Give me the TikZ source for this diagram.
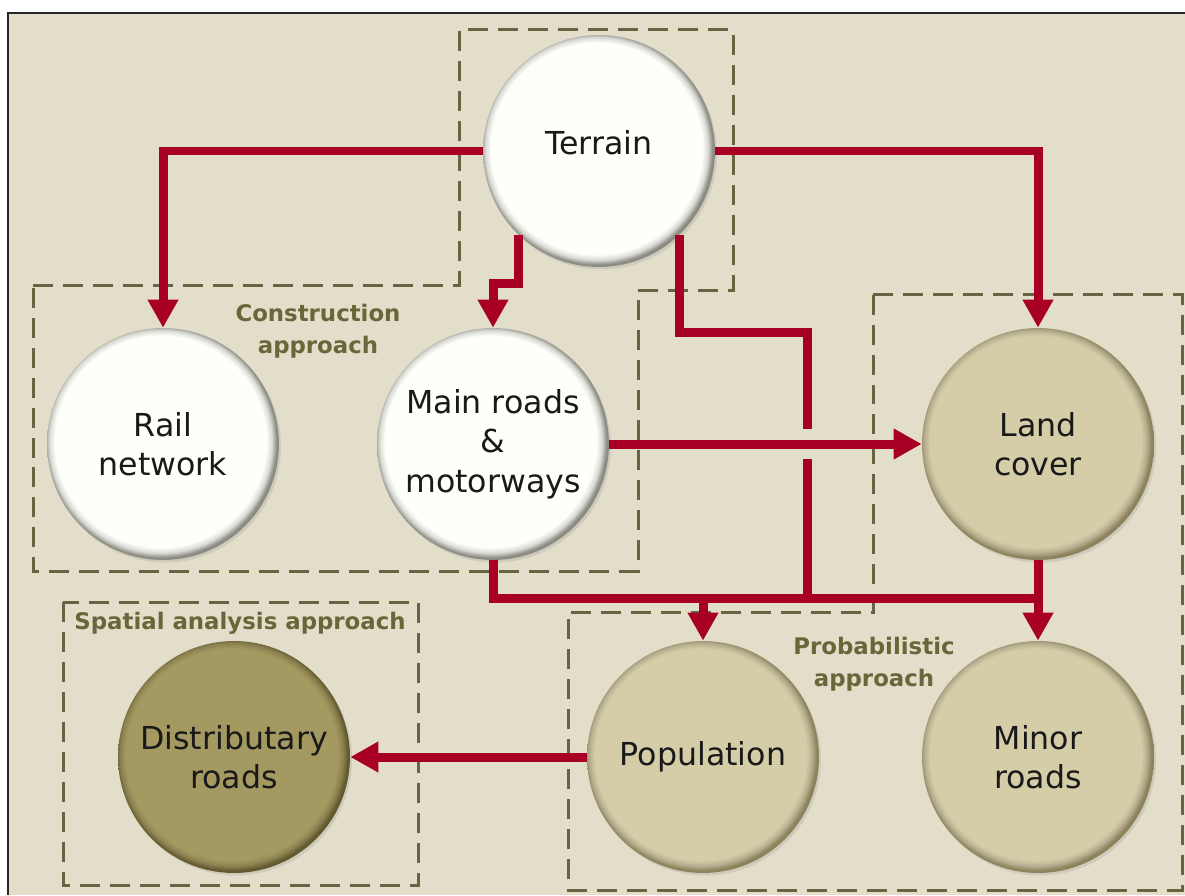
\documentclass[tikz,border=0pt]{standalone}
\usepackage{fontspec}
\setmainfont{DejaVu Sans}
\usetikzlibrary{arrows.meta,shadows}

\definecolor{paper}{RGB}{226,222,202}
\definecolor{roadred}{RGB}{168,0,36}
\definecolor{zoneline}{RGB}{104,100,66}
\definecolor{zonetext}{RGB}{104,103,58}
\definecolor{offwhite}{RGB}{255,255,250}
\definecolor{tanbase}{RGB}{213,205,168}
\definecolor{tanrim}{RGB}{140,131,92}
\definecolor{olivebase}{RGB}{164,153,96}
\definecolor{oliverim}{RGB}{100,90,48}
\definecolor{whiterim}{RGB}{140,140,132}

% discs: flat centre, thin darker rim
\pgfdeclareradialshading{discwhite}{\pgfpoint{-1bp}{1bp}}{color(0bp)=(offwhite); color(22.8bp)=(offwhite); color(24bp)=(offwhite!85!black); color(25bp)=(whiterim); color(50bp)=(whiterim)}
\pgfdeclareradialshading{disctan}{\pgfpoint{-1bp}{1bp}}{color(0bp)=(tanbase); color(22.8bp)=(tanbase); color(24bp)=(tanbase!85!black); color(25bp)=(tanrim); color(50bp)=(tanrim)}
\pgfdeclareradialshading{discolive}{\pgfpoint{-1bp}{1bp}}{color(0bp)=(olivebase); color(22.8bp)=(olivebase); color(24bp)=(olivebase!85!black); color(25bp)=(oliverim); color(50bp)=(oliverim)}

\tikzset{
disc/.style={circle, minimum size=4.64cm, inner sep=0pt, align=center, text=black!90,
  font=\fontsize{18}{22.5}\selectfont,
  drop shadow={opacity=0.2, shadow xshift=0.04cm, shadow yshift=-0.05cm}},
whitedisc/.style={disc, shade, shading=discwhite},
tandisc/.style={disc, shade, shading=disctan},
olivedisc/.style={disc, shade, shading=discolive},
link/.style={draw=roadred, line width=0.18cm},
flow/.style={link, -{Triangle[length=0.56cm, width=0.58cm]}},
bridge/.style={draw=paper, line width=0.6cm},
zone/.style={draw=zoneline, line width=0.06cm, dash pattern=on 0.4cm off 0.2cm},
approach/.style={text=zonetext, align=center, font=\bfseries\fontsize{13}{18}\selectfont}
}

\begin{document}
\begin{tikzpicture}[x=0.02cm, y=-0.02cm]
\useasboundingbox (0,0) rectangle (1185,895);
% page
\fill[white] (0,0) rectangle (1185,895);
\fill[paper] (8,13) rectangle (1185,895);
\draw[black!85, line width=0.05cm] (8,895) -- (8,13) -- (1185,13);

% approach zones
\draw[zone] (33,285) -- (459,285) -- (459,30) -- (733,30) -- (733,290) -- (638,290) -- (638,571) -- (33,571) -- cycle;
\draw[zone] (873,294) -- (1182,294) -- (1182,890) -- (568,890) -- (568,612) -- (873,612) -- cycle;
\draw[zone] (63,602) rectangle (418,885);

\node[approach] (constr) at (318,331) {Construction\\approach};
\node[approach] (spatial) at (240,623) {Spatial analysis approach};
\node[approach] (prob) at (874,664) {Probabilistic\\approach};

% layers
\node[whitedisc] (terrain) at (599,151) {\raisebox{0.36cm}{Terrain}};
\node[whitedisc] (rail) at (163,444) {Rail\\network};
\node[whitedisc] (main) at (493,444) {Main roads\\\&\\motorways};
\node[tandisc] (land) at (1038,444) {Land\\cover};
\node[tandisc] (pop) at (703,757) {Population};
\node[tandisc] (minor) at (1038,757) {Minor\\roads};
\node[olivedisc] (dist) at (234,757) {Distributary\\roads};

% routing points
\coordinate (mainbend) at (493,283);
\coordinate (jog) at (807,332);
\coordinate (bus) at (0,598);

% connectors
\draw[flow] (terrain.west) -| (rail.north);
\draw[flow] (terrain.east) -| (land.north);
\draw[flow] (terrain.-134) |- (mainbend) -- (main.north);
\draw[link] (terrain.-46) |- (jog) -- (jog |- bus);
\draw[link] (main.south) |- (bus -| minor);
\coordinate (cross) at (jog |- land.west);
\draw[bridge] ([xshift=-0.2cm]cross) -- ([xshift=0.2cm]cross);
\draw[flow] (main.east) -- (land.west);
\draw[flow] (bus -| pop) -- (pop.north);
\draw[flow] (land.south) -- (minor.north);
\draw[flow] (pop.west) -- (dist.east);
\end{tikzpicture}
\end{document}
